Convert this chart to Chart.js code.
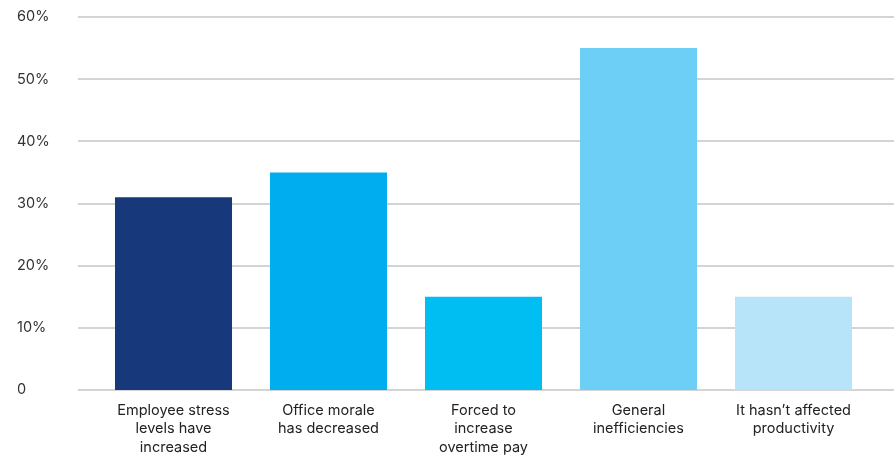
<!DOCTYPE html>
<html>
<head>
<meta charset="utf-8">
<script src="https://cdn.jsdelivr.net/npm/chart.js@4/dist/chart.umd.min.js"></script>
<style>
  html, body { margin: 0; padding: 0; background: #fff; }
  #wrap { position: relative; width: 894px; height: 456px; }
</style>
</head>
<body>
<div id="wrap"><canvas id="chart"></canvas></div>
<script>
const CATEGORIES = [
  ['Employee stress', 'levels have', 'increased'],
  ['Office morale', 'has decreased'],
  ['Forced to', 'increase', 'overtime pay'],
  ['General', 'inefficiencies'],
  ['It hasn\u2019t affected', 'productivity'],
];
const VALUES = [31, 35, 15, 55, 15];
const BAR_COLORS = ['#17387a', '#00aeef', '#00bdf2', '#6dcff6', '#b8e4f9'];
const Y_TICKS = [0, 10, 20, 30, 40, 50, 60];

const FONT = { family: "Inter, 'Noto Sans', sans-serif", size: 14.5 };
const GRID_COLOR = '#d4d4d4';

// grid lines run past the plot area on both sides, so draw them by hand
const wideGrid = {
  id: 'wideGrid',
  beforeDatasetsDraw(chart) {
    const { ctx, chartArea, scales } = chart;
    ctx.save();
    ctx.strokeStyle = GRID_COLOR;
    ctx.lineWidth = 2;
    Y_TICKS.forEach(v => {
      const y = Math.round(scales.y.getPixelForValue(v));
      ctx.beginPath();
      ctx.moveTo(chartArea.left - 18, y);
      ctx.lineTo(chart.width, y);
      ctx.stroke();
    });
    ctx.restore();
  },
};

new Chart(document.getElementById('chart'), {
  type: 'bar',
  data: {
    labels: CATEGORIES,
    datasets: [{
      data: VALUES,
      backgroundColor: BAR_COLORS,
      borderWidth: 0,
      categoryPercentage: 1,
      barPercentage: 0.755,
    }],
  },
  options: {
    responsive: true,
    maintainAspectRatio: false,
    animation: false,
    layout: { padding: { left: 17, right: 23, top: 17, bottom: 0 } },
    plugins: { legend: { display: false }, tooltip: { enabled: false } },
    scales: {
      x: {
        grid: { display: false },
        border: { display: false },
        ticks: { color: '#222', font: { ...FONT, lineHeight: 1.28 }, padding: 3, maxRotation: 0, autoSkip: false },
        afterFit(scale) { scale.height = 66; },
      },
      y: {
        min: 0,
        max: 60,
        afterBuildTicks(scale) { scale.ticks = Y_TICKS.map(v => ({ value: v })); },
        grid: { display: false },
        border: { display: false },
        ticks: {
          color: '#333',
          font: FONT,
          crossAlign: 'far',
          callback: v => (v === 0 ? '0' : v + '%'),
        },
        afterFit(scale) { scale.width = 79; },
      },
    },
  },
  plugins: [wideGrid],
});
</script>
</body>
</html>
